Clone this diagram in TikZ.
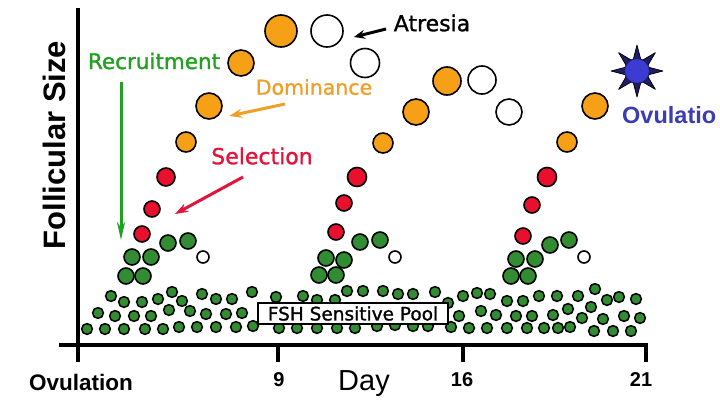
\documentclass[tikz,border=0pt]{standalone}
\usepackage{fontspec}
\setmainfont{Liberation Sans}
\newfontfamily\comic[FakeBold=1.2]{DejaVu Sans}
\usetikzlibrary{arrows.meta}
\definecolor{forange}{RGB}{246,160,24}
\definecolor{fred}{RGB}{232,16,44}
\definecolor{fgreen}{RGB}{50,140,50}
\definecolor{tgreen}{RGB}{34,160,34}
\definecolor{torange}{RGB}{240,160,40}
\definecolor{tred}{RGB}{226,20,60}
\definecolor{tblue}{RGB}{60,60,180}
\definecolor{starcore}{RGB}{60,60,210}
\definecolor{starray}{RGB}{30,30,100}
\tikzset{
  axis/.style={line width=4pt},
  fol/.style={draw=black, line width=1.6pt},
  pool/.style={draw=black, line width=1.5pt, fill=fgreen},
  comictext/.style={font=\comic, inner sep=0pt},
  labeltext/.style={font=\bfseries, inner sep=0pt},
  marker/.style={line width=3pt, -{Stealth[length=13pt,width=9pt]}},
}
\begin{document}
\begin{tikzpicture}[x=1pt,y=-1pt]
\useasboundingbox (0,0) rectangle (720,405);
\fill[white] (0,0) rectangle (720,405);
% axes
\coordinate (ytop) at (78,8);
\coordinate (orig) at (78,345);
\coordinate (t0) at (78,362);
\coordinate (xl) at (59,345);
\coordinate (xr) at (646,345);
\coordinate (t21) at (646,362);
\coordinate (a9) at (278,345);
\coordinate (t9) at (278,362);
\coordinate (a16) at (463,345);
\coordinate (t16) at (463,362);
\draw[axis] (ytop) -- (t0);
\draw[axis] (xl) -- (xr) -- (t21);
\draw[axis] (a9) -- (t9);
\draw[axis] (a16) -- (t16);
% axis labels
\node[labeltext, rotate=90, font=\bfseries\fontsize{31}{31}\selectfont] (ylab) at (54,145) {Follicular Size};
\node[labeltext, font=\bfseries\fontsize{22.5}{22.5}\selectfont] (lov) at (81,382) {Ovulation};
\node[labeltext, font=\bfseries\fontsize{20}{20}\selectfont] (l9) at (279,380) {9};
\node[labeltext, font=\bfseries\fontsize{20}{20}\selectfont] (l16) at (462,380) {16};
\node[labeltext, font=\bfseries\fontsize{20}{20}\selectfont] (l21) at (641,380) {21};
\node[inner sep=0pt, font=\fontsize{29}{29}\selectfont, anchor=base] (lday) at (364,390) {Day};
% pool
\foreach \x/\y in {111/296,124/302,142/302,158/299,172/292,182/301,202/294,216/299,232/299,
  98/313,115/316,134/316,151/316,169/310,190/311,206/314,226/314,242/313,
  87/329,105/329,124/329,145/329,163/329,179/327,197/327,216/327,236/327,
  252/292,276/297,303/296,317/300,335/300,347/291,363/291,383/291,398/294,413/294,435/292,448/303,463/296,477/293,490/294,
  253/326,279/328,297/328,317/328,337/328,355/328,377/326,395/325,413/326,428/326,451/327,469/328,487/328,
  459/316,481/311,496/315,
  507/301,523/301,539/296,557/296,578/296,595/289,607/300,619/297,636/299,
  516/316,532/316,553/315,568/309,591/307,582/318,603/319,624/316,640/318,
  507/328,527/328,544/328,558/328,570/327,594/331,613/331,631/331}
  \draw[pool] (\x,\y) circle[radius=5.4pt];
\node[draw=black, line width=1.3pt, fill=white, minimum width=190pt, minimum height=21pt, inner sep=0pt, font=\comic\fontsize{18.5}{18.5}\selectfont] (fsh) at (353,313.5) {FSH Sensitive Pool};
% follicle waves: green clusters
\foreach \x/\y in {126/276,143/276,132/257,151/257,168/243,188/241,
  319/275,336/275,326/258,344/260,360/242,380/240,
  511/276,528/276,516/259,535/259,550/245,569/240}
  \draw[fol, fill=fgreen] (\x,\y) circle[radius=8pt];
\foreach \x/\y in {203/257,395/257,584/257}
  \draw[fol, fill=white] (\x,\y) circle[radius=6pt];
% red
\foreach \x/\y/\r in {142/234/8,152/209/8,166/177/9,
  336/232/8,344/203/8,357/177/9.5,
  523/236/8,532/205/8,547/177/9.5}
  \draw[fol, fill=fred] (\x,\y) circle[radius=\r pt];
% orange
\foreach \x/\y/\r in {186/142/10,209/106/13,241/63/13,281/31/16,
  383/143/10,416/112/13,447/81/14,
  567/142/10,595/106/13}
  \draw[fol, fill=forange] (\x,\y) circle[radius=\r pt];
% white (atretic)
\foreach \x/\y/\r in {327/31/16,365/63/14.5,482/80/14,509/112/13}
  \draw[fol, fill=white] (\x,\y) circle[radius=\r pt];
% ovulation star
\coordinate (star) at (637,71);
\foreach \a in {0,45,...,315}
  \filldraw[fill=starray, draw=black, line width=0.7pt, line join=round]
    ([shift={(\a-22:11pt)}]star) -- ([shift={(\a:26pt)}]star) -- ([shift={(\a+22:11pt)}]star) -- cycle;
\filldraw[fill=starcore, draw=starray, line width=1pt] (star) circle[radius=12.5pt];
% texts
\node[comictext, text=tgreen, font=\comic\fontsize{21.5}{21.5}\selectfont] (rec) at (154,61) {Recruitment};
\node[comictext, text=torange, font=\comic\fontsize{20.5}{20.5}\selectfont] (dom) at (314,87) {Dominance};
\node[comictext, text=tred, font=\comic\fontsize{22}{22}\selectfont] (sel) at (262,156) {Selection};
\node[comictext, text=black, font=\comic\fontsize{22}{22}\selectfont] (atr) at (432,23) {Atresia};
\node[labeltext, text=tblue, font=\bfseries\fontsize{23.5}{23.5}\selectfont, anchor=west] (ovl) at (622,115) {Ovulatio};
% arrows
\coordinate (recS) at (121,82);
\coordinate (recE) at (121,240);
\coordinate (domS) at (285,104);
\coordinate (domE) at (229,116);
\coordinate (selS) at (243,177);
\coordinate (selE) at (175,214);
\coordinate (atrS) at (386,29);
\coordinate (atrE) at (354,37);
\draw[marker, draw=tgreen, -{Stealth[length=18pt,width=8pt]}] (recS) -- (recE);
\draw[marker, draw=torange, fill=torange] (domS) -- (domE);
\draw[marker, draw=tred, fill=tred] (selS) -- (selE);
\draw[marker, draw=black, fill=black, -{Stealth[length=11pt,width=9pt]}] (atrS) -- (atrE);
\end{tikzpicture}
\end{document}
